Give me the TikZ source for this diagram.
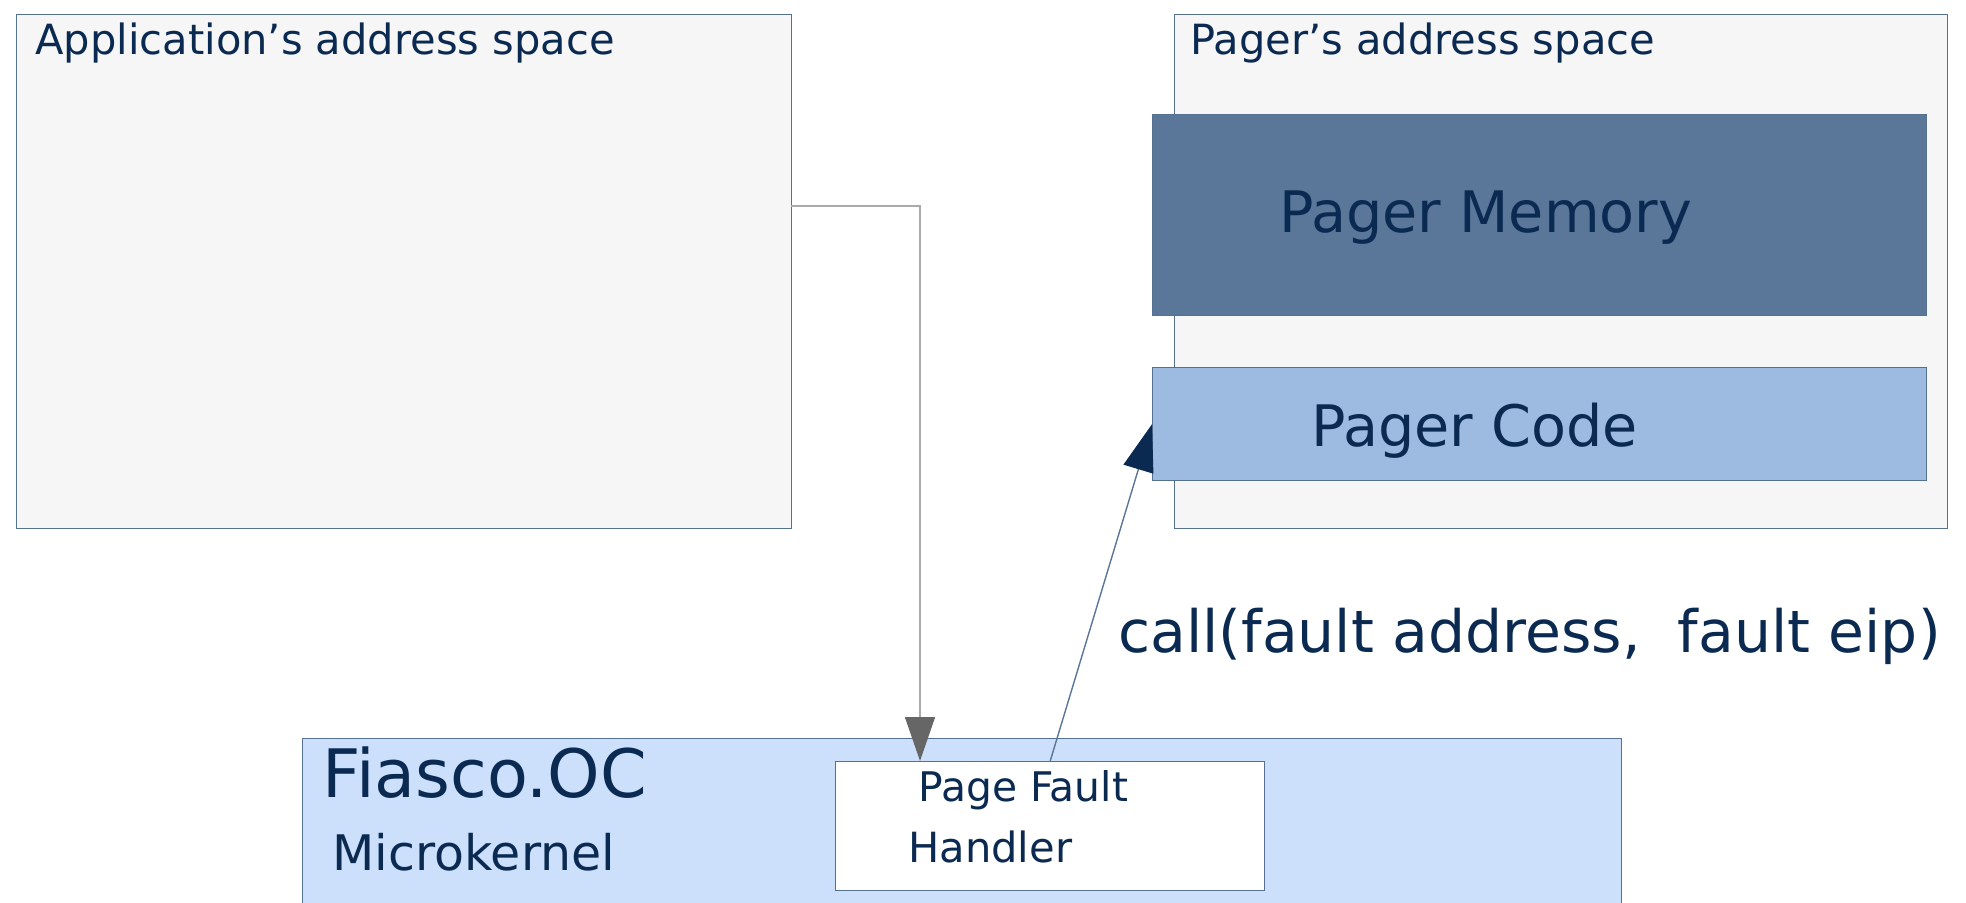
\documentclass[tikz,border=0pt]{standalone}
\usepackage{fontspec}
\setmainfont{DejaVu Sans}
\usetikzlibrary{arrows.meta}

\definecolor{spacegray}{HTML}{F6F6F6}
\definecolor{edgeblue}{HTML}{56708F}
\definecolor{memblue}{HTML}{5A7699}
\definecolor{codeblue}{HTML}{9DBBE1}
\definecolor{kernelblue}{HTML}{CCE0FC}
\definecolor{textnavy}{HTML}{0B2A52}
\definecolor{faultgray}{HTML}{666666}
\definecolor{faultline}{HTML}{AAAAAA}
\definecolor{callline}{HTML}{5A7598}

\tikzstyle{box} = [draw=edgeblue,line width=0.7pt,inner sep=0pt,anchor=north west]
\tikzstyle{addrspace} = [box,fill=spacegray]
\tikzstyle{memregion} = [box,fill=memblue]
\tikzstyle{coderegion} = [box,fill=codeblue]
\tikzstyle{kernelbox} = [box,fill=kernelblue]
\tikzstyle{handlerbox} = [box,fill=white]
\tikzstyle{label} = [text=textnavy,anchor=base west,inner sep=0pt]
\tikzstyle{faultarrow} = [draw=faultline,line width=0.8pt,-{Triangle[length=22pt,width=15pt,color=faultgray]}]
\tikzstyle{callarrow} = [draw=callline,line width=0.7pt,-{Triangle[length=23.5pt,width=15.5pt,color=textnavy]}]

\begin{document}
\begin{tikzpicture}[x=0.5pt,y=-0.5pt]
    \path[use as bounding box,clip] (0,0) rectangle (1966,903);

    % boxes
    \foreach \boxname/\x/\y/\w/\h/\kind in {
      app/16/14/775/514/addrspace,
      pager/1174/14/773/514/addrspace,
      memory/1152/114/774/201/memregion,
      code/1152/367/774/113/coderegion,
      kernel/302/738/1319/230/kernelbox,
      handler/835/761/429/129/handlerbox}
    {
      \node[\kind,minimum width=\w*0.5pt,minimum height=\h*0.5pt] (\boxname) at (\x,\y) {};
    }

    % texts
    \foreach \labelname/\x/\y/\size/\words in {
      apptitle/35/55/20.8/{Application’s address space},
      pagertitle/1190/55/20.8/{Pager’s address space},
      memtext/1279/233/28.6/{Pager Memory},
      codetext/1311/447/28.6/{Pager Code},
      calltext/1118/653/29.2/{call(fault address,\ \ fault eip)},
      kerneltext/322/797/33.4/{Fiasco.OC},
      microtext/332/870/24.5/{Microkernel},
      pftext/918/801/20.4/{Page Fault},
      handlertext/908/862/20.8/{Handler}}
    {
      \node[label,font=\fontsize{\size}{\size}\selectfont] (\labelname) at (\x,\y) {\words};
    }

    %connectors
    \coordinate (appexit) at (791,206);
    \coordinate (pfentry) at (920,761);
    \draw[faultarrow] (appexit) -| (pfentry);
    \draw[callarrow] (handler.north) -- (code.west);
\end{tikzpicture}
\end{document}
